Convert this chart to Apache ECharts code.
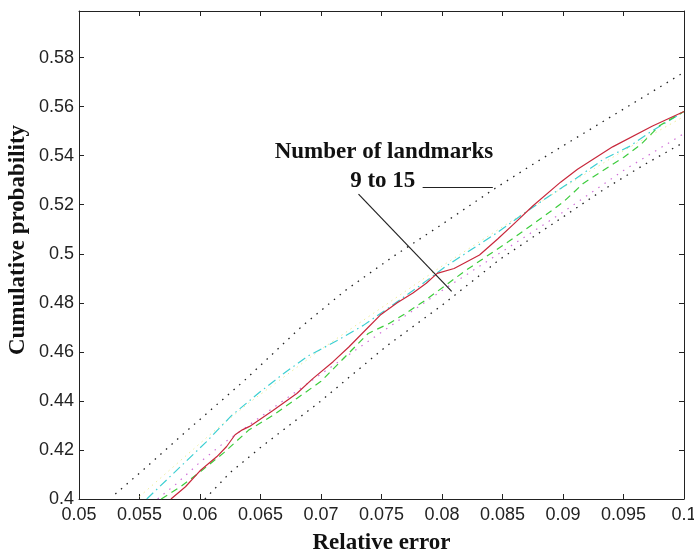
<!DOCTYPE html>
<html>
<head>
<meta charset="utf-8">
<title>Cumulative probability</title>
<script src="https://cdn.jsdelivr.net/npm/echarts@6/dist/echarts.min.js"></script>
<style>
  * { margin: 0; padding: 0; }
  html, body { background: #fff; }
  #main { width: 694px; height: 555px; }
</style>
</head>
<body>
<div id="main"></div>
<script>
// values: [relative error, cumulative probability]
var upperDotted = [[0.053,0.402],[0.0555,0.4127],[0.0585,0.426],[0.0636,0.448],[0.0685,0.4708],[0.072,0.485],[0.076,0.499],[0.080,0.512],[0.0843,0.5264],[0.088,0.538],[0.092,0.550],[0.096,0.562],[0.1,0.574]];
var redSolid = [[0.0576,0.400],[0.0588,0.405],[0.060,0.4115],[0.0614,0.4173],[0.0622,0.4214],[0.0629,0.4262],[0.0635,0.4282],[0.0641,0.4296],[0.066,0.436],[0.068,0.443],[0.0693,0.449],[0.071,0.456],[0.0723,0.462],[0.0735,0.468],[0.0749,0.475],[0.0763,0.480],[0.0776,0.484],[0.0787,0.488],[0.0796,0.492],[0.081,0.494],[0.0831,0.4995],[0.0846,0.506],[0.0859,0.512],[0.0875,0.5195],[0.0898,0.5292],[0.0912,0.5345],[0.0941,0.5436],[0.0974,0.5521],[0.1,0.558]];
var greenDashed = [[0.0568,0.400],[0.0584,0.405],[0.060,0.411],[0.062,0.419],[0.064,0.428],[0.066,0.434],[0.068,0.441],[0.070,0.448],[0.072,0.458],[0.0739,0.4675],[0.0756,0.4715],[0.0771,0.476],[0.0786,0.481],[0.0804,0.4875],[0.0819,0.493],[0.0837,0.499],[0.0855,0.505],[0.0875,0.512],[0.090,0.521],[0.0917,0.5288],[0.095,0.5393],[0.0964,0.5444],[0.098,0.5523],[0.1,0.558]];
var cyanDashDot = [[0.0556,0.400],[0.0575,0.409],[0.0605,0.4232],[0.0626,0.434],[0.0649,0.4434],[0.067,0.4515],[0.069,0.4585],[0.0713,0.4645],[0.0735,0.4708],[0.0756,0.478],[0.0779,0.486],[0.0803,0.4948],[0.0823,0.5013],[0.0845,0.5084],[0.0867,0.5162],[0.0889,0.5237],[0.0911,0.5308],[0.0933,0.5384],[0.0955,0.5438],[0.0972,0.5496],[0.1,0.558]];
var magentaDotted = [[0.0565,0.400],[0.058,0.406],[0.060,0.415],[0.062,0.423],[0.064,0.430],[0.066,0.437],[0.070,0.451],[0.075,0.468],[0.080,0.485],[0.085,0.501],[0.090,0.517],[0.095,0.534],[0.1,0.549]];
var yellowDotted = [[0.055,0.401],[0.058,0.414],[0.061,0.427],[0.064,0.439],[0.067,0.450],[0.070,0.461],[0.075,0.478],[0.080,0.495],[0.085,0.511],[0.090,0.527],[0.095,0.542],[0.1,0.556]];
var lowerDotted = [[0.0604,0.400],[0.0625,0.4108],[0.065,0.421],[0.070,0.440],[0.0721,0.4487],[0.0754,0.4623],[0.080,0.479],[0.0848,0.4978],[0.090,0.515],[0.0933,0.526],[0.0966,0.536],[0.1,0.5455]];

var xTicks = { min: 0.05, max: 0.1, step: 0.005 };
var yTicks = { min: 0.4, max: 0.599, step: 0.02 };

var yTitle = 'Cumulative probability';
var annoTitle = 'Number of landmarks';
var annoSub = '9 to 15';
var annoTitlePos = [0.0752, 0.5415];
var annoSubPos = [0.0751, 0.5295];
var pointerH = [[0.0784, 0.5272], [0.0842, 0.5272]];
var pointerD = [[0.0731, 0.5243], [0.0808, 0.4847]];

var chart = echarts.init(document.getElementById('main'));
var tickFont = { fontFamily: 'Liberation Sans, Arial', fontSize: 18, color: '#222' };
var titleFont = { fontFamily: 'Liberation Serif, Times New Roman', fontWeight: 'bold', fontSize: 23, color: '#111' };

function mk(name, data, color, type, width) {
    return {
        name: name, type: 'line', data: data, showSymbol: false, silent: true,
        lineStyle: { color: color, width: width || 1, type: type }, z: 3
    };
}

option = {
    animation: false,
    grid: { left: 79, right: 10, top: 11, bottom: 56, outerBoundsMode: 'none' },
    xAxis: [
        {
            type: 'value', min: xTicks.min, max: xTicks.max, interval: xTicks.step,
            name: 'Relative error', nameLocation: 'middle', nameGap: 33,
            nameTextStyle: titleFont,
            axisLine: { onZero: false, lineStyle: { color: '#222', width: 1 } },
            axisTick: { inside: true, length: 5, lineStyle: { color: '#222' } },
            axisLabel: Object.assign({ margin: 7 }, tickFont),
            splitLine: { show: false }
        },
        {
            type: 'value', position: 'top', min: xTicks.min, max: xTicks.max, interval: xTicks.step,
            axisLine: { onZero: false, lineStyle: { color: '#222', width: 1 } },
            axisTick: { inside: true, length: 5, lineStyle: { color: '#222' } },
            axisLabel: { show: false }, splitLine: { show: false }
        }
    ],
    yAxis: [
        {
            type: 'value', min: yTicks.min, max: yTicks.max, interval: yTicks.step,
            axisLine: { show: true, onZero: false, lineStyle: { color: '#222', width: 1 } },
            axisTick: { show: true, inside: true, length: 5, lineStyle: { color: '#222' } },
            axisLabel: Object.assign({ margin: 5, showMaxLabel: false }, tickFont),
            splitLine: { show: false }
        },
        {
            type: 'value', position: 'right', min: yTicks.min, max: yTicks.max, interval: yTicks.step,
            axisLine: { show: true, onZero: false, lineStyle: { color: '#222', width: 1 } },
            axisTick: { show: true, inside: true, length: 5, lineStyle: { color: '#222' } },
            axisLabel: { show: false }, splitLine: { show: false }
        }
    ],
    series: [
        mk('yellow', yellowDotted, '#ecec9a', [1.5, 4]),
        mk('upper', upperDotted, '#222', [1.5, 6], 1.3),
        mk('lower', lowerDotted, '#222', [1.5, 6], 1.3),
        mk('magenta', magentaDotted, '#d070d8', [1.5, 6], 1.2),
        mk('cyan', cyanDashDot, '#3ccfd2', [9, 4, 1.5, 4], 1.2),
        mk('green', greenDashed, '#3ccc3c', [7, 5], 1.2),
        mk('red', redSolid, '#c8283c', 'solid', 1.2),
        {
            type: 'line', data: [], silent: true,
            markLine: {
                symbol: 'none', silent: true, animation: false,
                lineStyle: { color: '#222', width: 1.2, type: 'solid' },
                label: { show: false },
                data: [
                    [{ coord: pointerH[0] }, { coord: pointerH[1] }],
                    [{ coord: pointerD[0] }, { coord: pointerD[1] }]
                ]
            }
        }
    ]
};
chart.setOption(option);

var p1 = chart.convertToPixel({ gridIndex: 0 }, annoTitlePos);
var p2 = chart.convertToPixel({ gridIndex: 0 }, annoSubPos);
var annoFont = { fontFamily: 'Liberation Serif, Times New Roman', fontWeight: 'bold', fontSize: 23, fill: '#111', align: 'center', verticalAlign: 'middle' };
chart.setOption({
    graphic: [
        { type: 'text', x: p1[0], y: p1[1], style: Object.assign({ text: annoTitle }, annoFont) },
        { type: 'text', x: p2[0], y: p2[1], style: Object.assign({ text: annoSub }, annoFont) },
        { type: 'text', x: 18, y: 240, rotation: Math.PI / 2, style: Object.assign({ text: yTitle }, annoFont) }
    ]
});
</script>
</body>
</html>
